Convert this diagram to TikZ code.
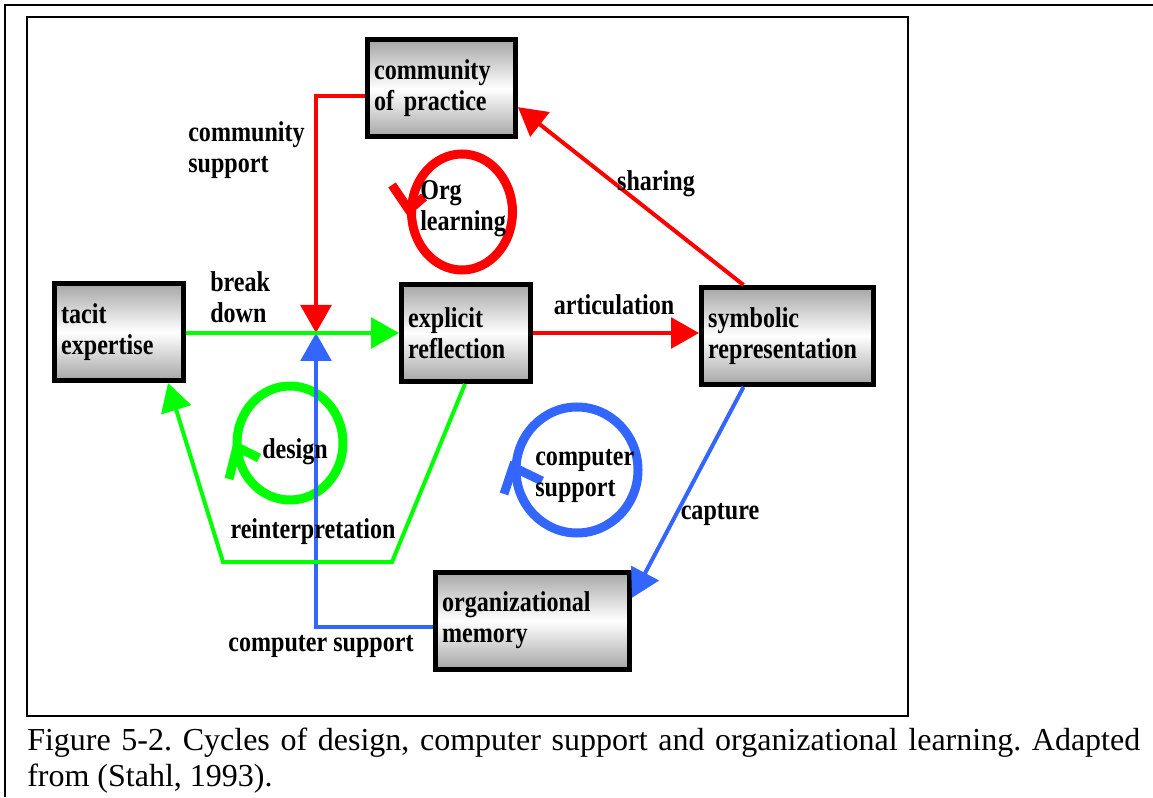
\documentclass[tikz,border=0pt]{standalone}
\usepackage{fontspec}
\setmainfont{Liberation Serif}
\newfontfamily\stagefont[FakeStretch=0.84]{Liberation Serif}
\usetikzlibrary{arrows.meta,calc}
\frenchspacing

\definecolor{cyred}{RGB}{255,0,0}
\definecolor{cygreen}{RGB}{0,255,0}
\definecolor{cyblue}{RGB}{51,102,255}

\tikzset{
	stage/.style={draw, line width=3.75pt, top color=black!35, bottom color=black!35, middle color=white,
		inner xsep=5pt, inner ysep=0pt, align=left, minimum height=72.75pt,
		font=\stagefont\bfseries\fontsize{21.5}{23.25}\selectfont},
	lab/.style={inner sep=0pt, align=left, font=\stagefont\bfseries\fontsize{21.5}{23.25}\selectfont},
	flow/.style={line width=3pt, -{Triangle[length=21pt,width=23pt]}},
	loop/.style={line width=6.75pt, line join=miter},
	frame/.style={line width=1.5pt},
	caption/.style={anchor=base west, inner sep=0pt, font=\fontsize{24}{27.75}\selectfont},
}

\begin{document}
\begin{tikzpicture}[x=0.75pt, y=0.75pt]
			%%%%% START %%%%%
			\useasboundingbox (0,0) rectangle (1153,797);
			
			\draw[frame] (5,0) -- (5,792) -- (1153,792);
			\draw[frame] (27,81) rectangle (908,780);
			
			% the three cycles
			\draw[loop, cyred] (462,585) ellipse [x radius=50.5, y radius=58];
			\draw[loop, cyred] (392,612) -- (409,587) -- (424,600);
			\draw[loop, cygreen] (290,354) ellipse [x radius=53, y radius=57];
			\draw[loop, cygreen] (229,318) -- (237,350) -- (259,339);
			\draw[loop, cyblue] (577,327) ellipse [x radius=61, y radius=63];
			\draw[loop, cyblue] (504,303) -- (513,330) -- (542,316);
			
			% stages
			\node[stage, text width=101pt] (comm) at (441.5,708.5) {community\\of practice};
			\node[stage, text width=86.75pt] (tacit) at (119,465) {tacit\\expertise};
			\node[stage, text width=86.75pt] (expl) at (466,464) {explicit\\reflection};
			\node[stage, text width=119pt] (symb) at (787.5,461) {symbolic\\representation};
			\node[stage, text width=135.5pt] (orgmem) at (532.5,176.5) {organizational\\memory};
			
			\coordinate (hub) at (316,464);
			\coordinate (rbend) at (392,235);
			\coordinate (lbend) at (223,235);
			
			% flows
			\draw[flow, cyred] ([yshift=-5.6pt]comm.west) -| (hub);
			\draw[flow, cyblue] ([yshift=-5pt]orgmem.west) -| (hub);
			\draw[flow, cygreen] (tacit.east |- hub) -- (expl.west |- hub);
			\draw[flow, cyred] (expl.east |- hub) -- (symb.west |- hub);
			\draw[flow, cyred] ([xshift=-33pt]symb.north) -- ([yshift=-14pt]comm.east);
			\draw[flow, cyblue] ([xshift=-33pt]symb.south) -- ([yshift=17pt]orgmem.east);
			\draw[flow, cygreen] ([xshift=-0.75pt]expl.south) -- (rbend) -- (lbend) -- ([xshift=36.75pt]tacit.south);
			
			% labels
			\node[lab, anchor=west] (lcomm) at (188,647) {community\\support};
			\node[lab, anchor=west] (lbreak) at (210,500) {break\\down};
			\node[lab] (lartic) at (614,492) {articulation};
			\node[lab] (lshare) at (656,613) {sharing};
			\node[lab] (lcapt) at (720,283) {capture};
			\node[lab] (lreint) at (313,265) {reinterpretation};
			\node[lab] (lcsup) at (321,151) {computer support};
			
			\node[lab, anchor=west] (lorg) at (420,588) {Org\\learning};
			\node[lab, anchor=west] (ldes) at (262,345) {design};
			\node[lab, anchor=west] (lcomp) at (535,321) {computer\\support};
			
			% caption
			\node[caption] (cap1) at (27,47) {\makebox[834.75pt][s]{Figure 5-2. Cycles of design, computer support and organizational learning. Adapted}};
			\node[caption] (cap2) at (27,11) {from (Stahl, 1993).};
			
			%%%%% END %%%%%
\end{tikzpicture}
\end{document}
